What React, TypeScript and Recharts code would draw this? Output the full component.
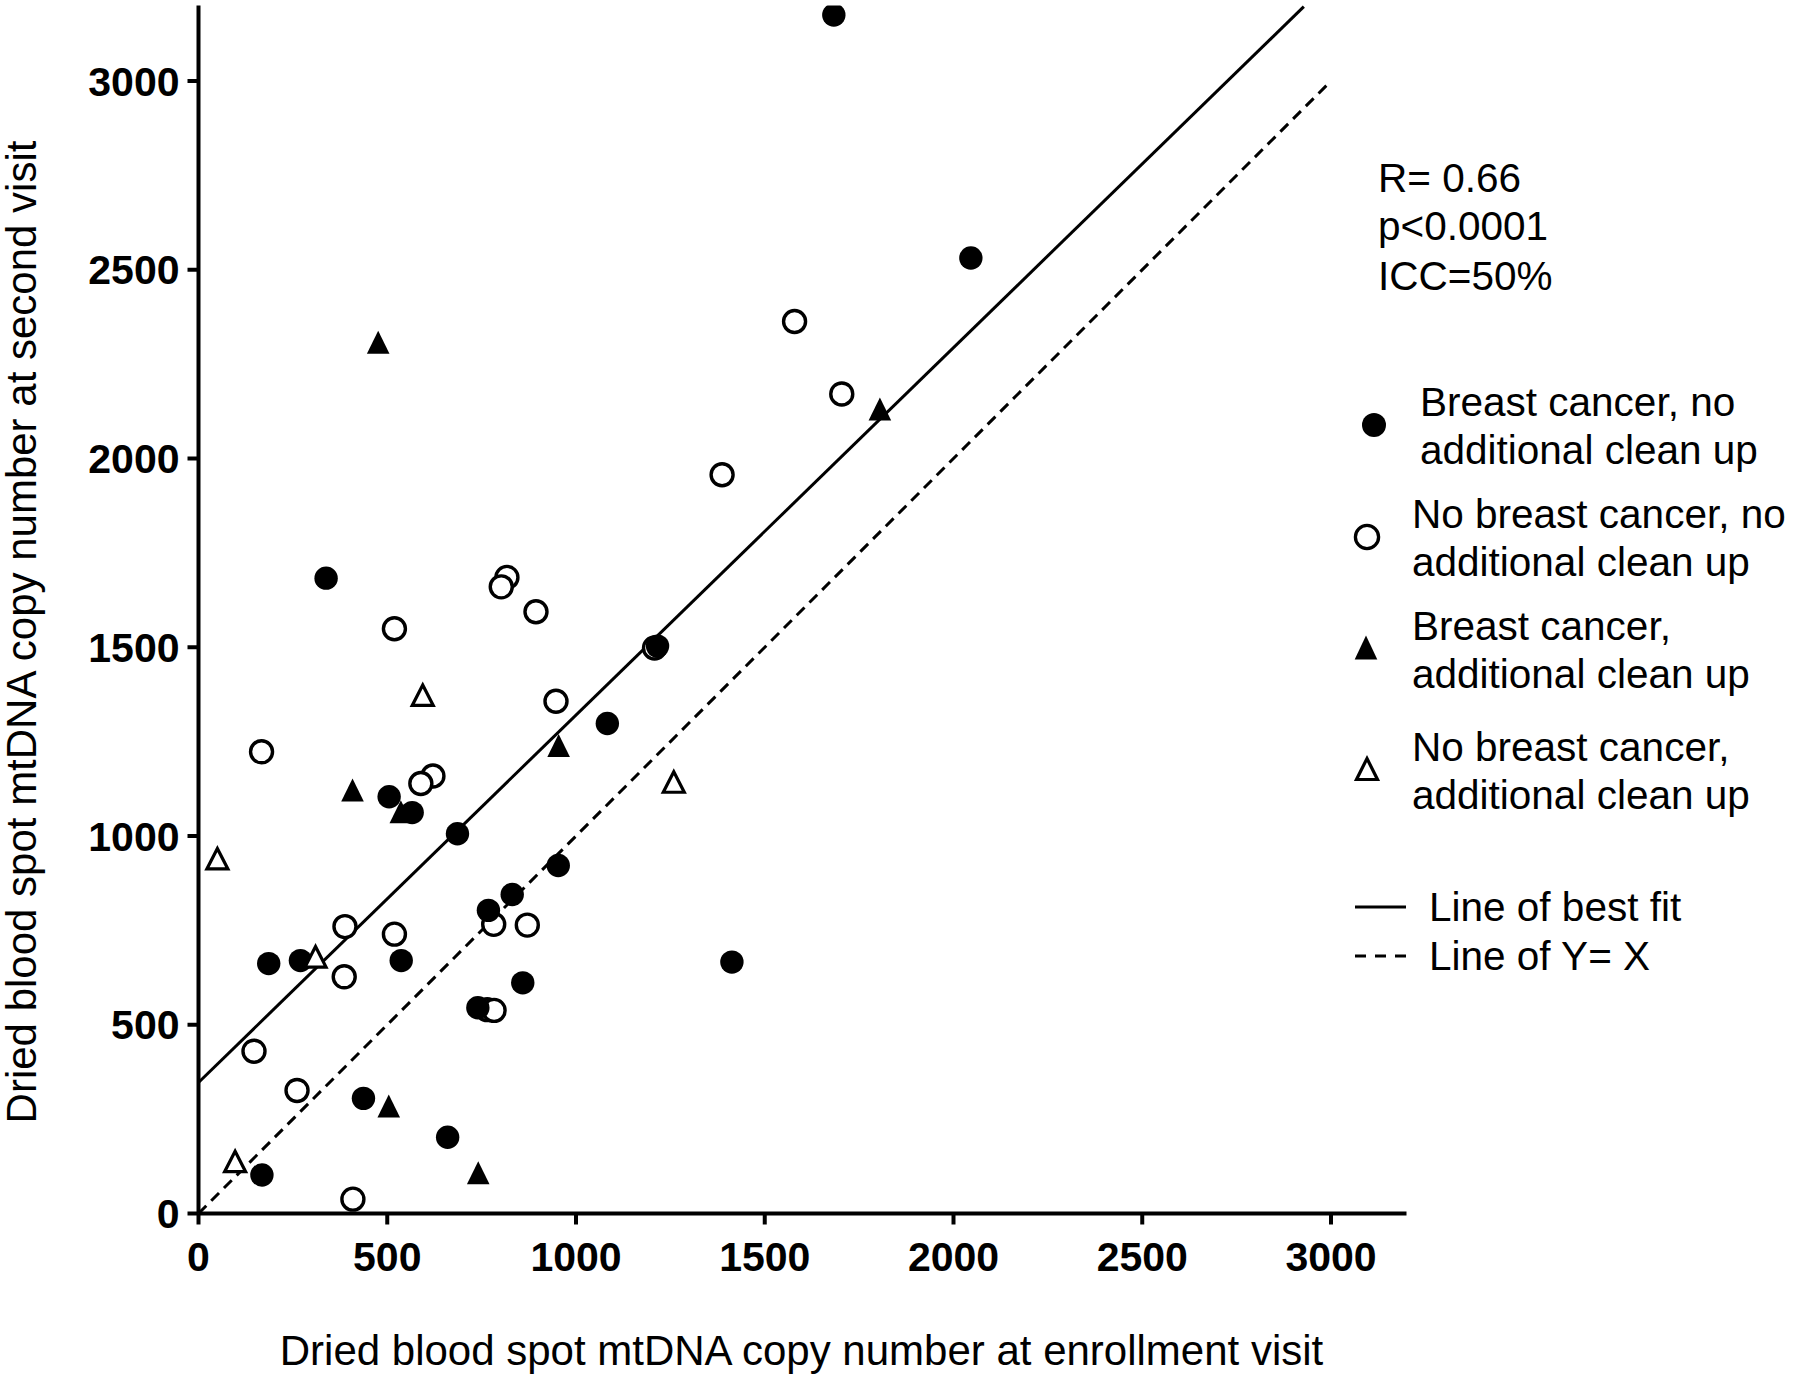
import React from 'react';
import { ScatterChart, Scatter, XAxis, YAxis, ReferenceLine, Legend, Label } from 'recharts';

// mtDNA copy number: [enrollment visit, second visit]
const breastNoCleanup: [number, number][] = [
  [1683, 3175], [2046, 2531], [338, 1683], [1216, 1503], [1083, 1298], [505, 1104],
  [566, 1062], [686, 1006], [953, 922], [831, 845], [768, 803], [186, 662],
  [270, 670], [537, 670], [1413, 666], [859, 611], [740, 545], [437, 305],
  [660, 202], [168, 102],
];
const noBreastNoCleanup: [number, number][] = [
  [1579, 2363], [1704, 2171], [1387, 1957], [817, 1685], [802, 1660], [894, 1594],
  [519, 1549], [947, 1357], [167, 1223], [621, 1159], [589, 1139], [388, 760],
  [519, 740], [871, 764], [782, 766], [386, 627], [765, 540], [783, 538],
  [147, 430], [261, 326], [409, 38], [1208, 1498],
];
const breastCleanup: [number, number][] = [
  [476, 2308], [1805, 2131], [408, 1122], [954, 1240], [536, 1064], [504, 285], [741, 108],
];
const noBreastCleanup: [number, number][] = [
  [594, 1373], [1259, 1143], [50, 940], [310, 680], [97, 138],
];

const fitStart = [0, 347];
const fitEnd = [2928, 3197];
const identityStart = [0, 0];
const identityEnd = [3000, 3000];

const axisTicks = [0, 500, 1000, 1500, 2000, 2500, 3000];
const axisDomain: [number, number] = [0, 3200];

const statLines = ['R= 0.66', 'p<0.0001', 'ICC=50%'];
const legendLabels = [
  ['Breast cancer, no', 'additional clean up'],
  ['No breast cancer, no', 'additional clean up'],
  ['Breast cancer,', 'additional clean up'],
  ['No breast cancer,', 'additional clean up'],
];
const lineLabels = ['Line of best fit', 'Line of Y= X'];

const xTitle = 'Dried blood spot mtDNA copy number at enrollment visit';
const yTitle = 'Dried blood spot mtDNA copy number at second visit';

const FONT = '"Liberation Sans", Arial, Helvetica, sans-serif';

const toPoints = (rows: [number, number][]) => rows.map(([x, y]) => ({ x, y }));

const tri = (cx: number, cy: number, hw: number, h: number) =>
  `M${cx},${cy - h / 2} L${cx + hw},${cy + h / 2} L${cx - hw},${cy + h / 2} Z`;

const FilledCircle = (p: any) => <circle cx={p.cx} cy={p.cy} r={11.7} fill="#000" />;
const OpenCircle = (p: any) => (
  <circle cx={p.cx} cy={p.cy} r={11} fill="#fff" stroke="#000" strokeWidth={3.4} />
);
const FilledTriangle = (p: any) => <path d={tri(p.cx, p.cy, 11.3, 23)} fill="#000" />;
const OpenTriangle = (p: any) => (
  <path d={tri(p.cx, p.cy, 10.5, 20.5)} fill="#fff" stroke="#000" strokeWidth={3.2} />
);

const XTitle = () => (
  <text x={801.5} y={1365} textAnchor="middle" fontSize={42} fontFamily={FONT} fill="#000">
    {xTitle}
  </text>
);

const YTitle = () => (
  <text transform="translate(36,632) rotate(-90)" textAnchor="middle" fontSize={42} fontFamily={FONT} fill="#000">
    {yTitle}
  </text>
);

const textLine = (text: string, left: number, centerY: number) => (
  <div key={text + centerY} style={{ position: 'absolute', left, top: centerY - 24, height: 48 }}>
    {text}
  </div>
);

const LegendBlock = () => {
  const statCenters = [178, 226, 276];
  const itemFirst = [402, 514, 626, 747];
  const itemLeft = [1420, 1412, 1412, 1412];
  const lineY = [907, 956];
  return (
    <div
      style={{
        position: 'absolute', left: 0, top: 0, fontFamily: FONT, fontSize: 40.5,
        lineHeight: '48px', color: '#000', whiteSpace: 'nowrap',
      }}
    >
      {statLines.map((s, i) => textLine(s, 1378, statCenters[i]))}
      {legendLabels.map((lines, i) => lines.map((t, j) => textLine(t, itemLeft[i], itemFirst[i] + j * 48)))}
      {lineLabels.map((t, i) => textLine(t, 1429, lineY[i]))}
      <svg width={1800} height={1379} style={{ position: 'absolute', left: 0, top: 0, overflow: 'visible' }}>
        <circle cx={1374} cy={425} r={12} fill="#000" />
        <circle cx={1367} cy={537} r={11.6} fill="#fff" stroke="#000" strokeWidth={3.3} />
        <path d={tri(1366, 647.5, 11.3, 24)} fill="#000" />
        <path d={tri(1367, 769, 10.5, 21)} fill="#fff" stroke="#000" strokeWidth={3.2} />
        <line x1={1355} x2={1406} y1={lineY[0]} y2={lineY[0]} stroke="#000" strokeWidth={3} />
        <line x1={1355} x2={1406} y1={lineY[1]} y2={lineY[1]} stroke="#000" strokeWidth={3} strokeDasharray="11 9" />
      </svg>
    </div>
  );
};

const tickStyle = { fill: '#000', fontSize: 41, fontWeight: 700, fontFamily: FONT };
const axisStroke = { stroke: '#000', strokeWidth: 4 };

export default function App() {
  return (
    <div style={{ position: 'relative', width: 1800, height: 1379, background: '#fff' }}>
      <style>{'body{margin:0;background:#fff;}'}</style>
      <ScatterChart
        width={1800}
        height={1379}
        margin={{ top: 5.5, left: 78.5, right: 393.5, bottom: 105.5 }}
        style={{ fontFamily: FONT }}
      >
        <XAxis
          type="number"
          dataKey="x"
          domain={axisDomain}
          ticks={axisTicks}
          allowDataOverflow
          height={60}
          tickSize={11}
          tickMargin={17}
          tick={tickStyle}
          axisLine={axisStroke}
          tickLine={axisStroke}
        >
          <Label content={() => <XTitle />} />
        </XAxis>
        <YAxis
          type="number"
          dataKey="y"
          domain={axisDomain}
          ticks={axisTicks}
          allowDataOverflow
          width={120}
          tickSize={11}
          tickMargin={8}
          tick={tickStyle}
          axisLine={axisStroke}
          tickLine={axisStroke}
        >
          <Label content={() => <YTitle />} />
        </YAxis>
        <ReferenceLine
          segment={[{ x: fitStart[0], y: fitStart[1] }, { x: fitEnd[0], y: fitEnd[1] }]}
          stroke="#000"
          strokeWidth={3}
        />
        <ReferenceLine
          segment={[{ x: identityStart[0], y: identityStart[1] }, { x: identityEnd[0], y: identityEnd[1] }]}
          stroke="#000"
          strokeWidth={3}
          strokeDasharray="11 7"
        />
        <Scatter name="No breast cancer, no additional clean up" data={toPoints(noBreastNoCleanup)} shape={OpenCircle} isAnimationActive={false} />
        <Scatter name="Breast cancer, no additional clean up" data={toPoints(breastNoCleanup)} shape={FilledCircle} isAnimationActive={false} />
        <Scatter name="Breast cancer, additional clean up" data={toPoints(breastCleanup)} shape={FilledTriangle} isAnimationActive={false} />
        <Scatter name="No breast cancer, additional clean up" data={toPoints(noBreastCleanup)} shape={OpenTriangle} isAnimationActive={false} />
        <Legend
          layout="vertical"
          align="center"
          verticalAlign="middle"
          content={() => <LegendBlock />}
          wrapperStyle={{ left: 0, top: 0, width: 0, height: 0, margin: 0 }}
        />
      </ScatterChart>
    </div>
  );
}
